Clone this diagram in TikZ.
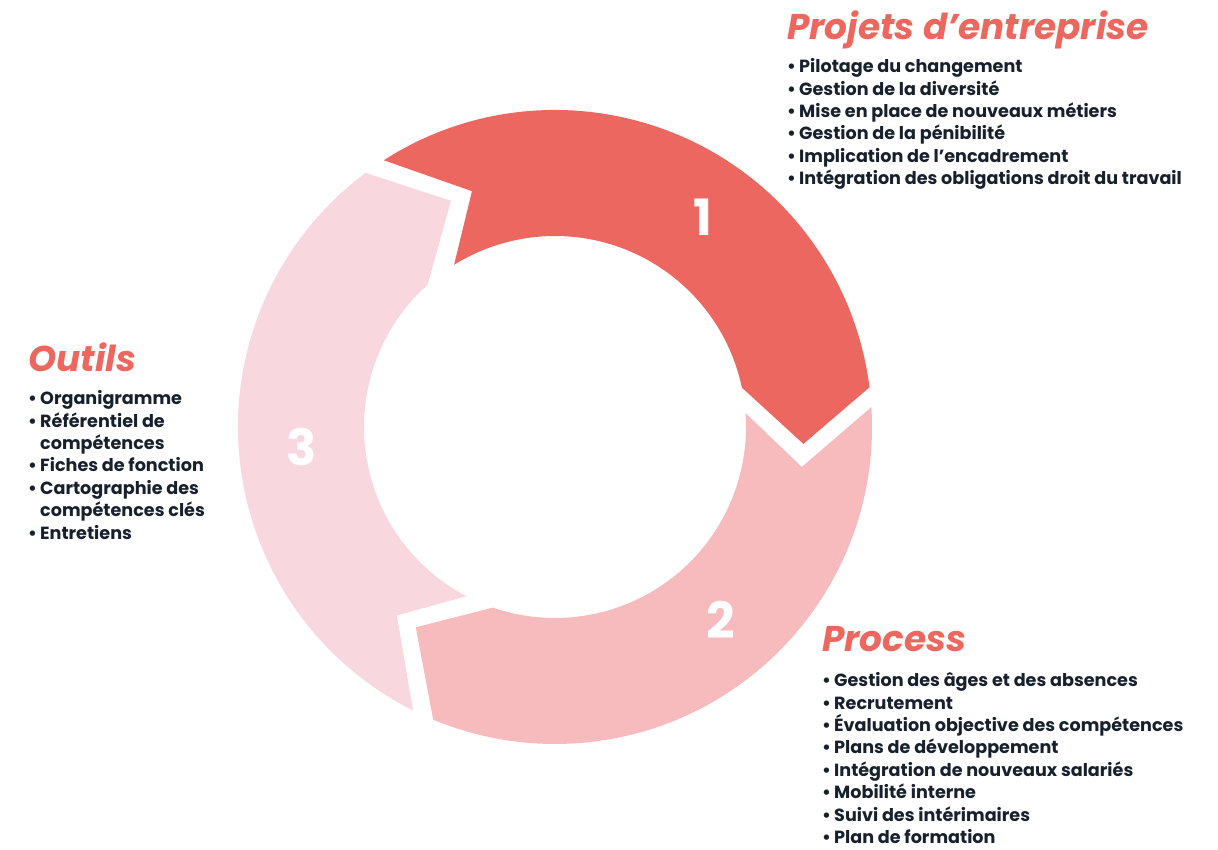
\documentclass[tikz,border=0pt]{standalone}
\usepackage{fontspec}
\setmainfont{Poppins}
\usetikzlibrary{calc, positioning}

\definecolor{cycleRed}{HTML}{EC675F}
\definecolor{cyclePink}{HTML}{F7BABD}
\definecolor{cycleLight}{HTML}{F9D7DF}
\definecolor{headRed}{HTML}{EE675F}
\definecolor{inkBlue}{HTML}{17212E}

\newcommand{\itm}[1]{\makebox[12pt][l]{•}#1}
\newcommand{\cnt}[1]{\hspace*{12pt}#1}

\tikzset{
    heading/.style={anchor=base west, inner sep=0pt, text=headRed,
        font=\fontsize{35.8}{40}\selectfont\bfseries\itshape},
    bullets/.style={anchor=north west, inner sep=0pt, align=left, text=inkBlue,
        font=\fontsize{17.6}{22.4}\selectfont\bfseries},
    stepnum/.style={text=white, inner sep=0pt, font=\fontsize{50}{50}\selectfont\bfseries}
}

\begin{document}
\begin{tikzpicture}[x=1pt, y=1pt]
    \useasboundingbox (0,0) rectangle (1218,850);
    \coordinate (C) at (555,423);

    % Ring segments
    \fill[cycleRed] ($(C)+(122.7:317)$) arc[start angle=122.7, end angle=7.2, radius=317]
        -- ($(C)+(-3.9:249)$) -- ($(C)+(11.9:191)$)
        arc[start angle=11.9, end angle=121.9, radius=191]
        -- ($(C)+(109.4:250)$) -- cycle;

    \fill[cyclePink] ($(C)+(3.6:317)$) arc[start angle=3.6, end angle=-112.6, radius=317]
        -- ($(C)+(-124.8:244)$) -- ($(C)+(-109:191)$)
        arc[start angle=-109, end angle=4.2, radius=191]
        -- ($(C)+(-9.2:250)$) -- cycle;

    \fill[cycleLight] ($(C)+(243.4:317)$) arc[start angle=243.4, end angle=126.7, radius=317]
        -- ($(C)+(114.7:249)$) -- ($(C)+(131.8:191)$)
        arc[start angle=131.8, end angle=242.4, radius=191]
        -- ($(C)+(230:246)$) -- cycle;

    % Step numbers
    \node[stepnum] (one) at (703,633) {1};
    \node[stepnum] (two) at (721,230) {2};
    \node[stepnum] (three) at (302,403) {3};

    % Projets d'entreprise
    \node[heading] (projets) at (787,810) {Projets d’entreprise};
    \node[bullets] (projetsList) at (787,791.5) {%
        \itm{Pilotage du changement}\\
        \itm{Gestion de la diversité}\\
        \itm{Mise en place de nouveaux métiers}\\
        \itm{Gestion de la pénibilité}\\
        \itm{Implication de l’encadrement}\\
        \itm{Intégration des obligations droit du travail}};

    % Outils
    \node[heading] (outils) at (28,478) {Outils};
    \node[bullets] (outilsList) at (28,459.5) {%
        \itm{Organigramme}\\
        \itm{Référentiel de}\\
        \cnt{compétences}\\
        \itm{Fiches de fonction}\\
        \itm{Cartographie des}\\
        \cnt{compétences clés}\\
        \itm{Entretiens}};

    % Process
    \node[heading] (process) at (822,198) {Process};
    \node[bullets] (processList) at (822,177.5) {%
        \itm{Gestion des âges et des absences}\\
        \itm{Recrutement}\\
        \itm{Évaluation objective des compétences}\\
        \itm{Plans de développement}\\
        \itm{Intégration de nouveaux salariés}\\
        \itm{Mobilité interne}\\
        \itm{Suivi des intérimaires}\\
        \itm{Plan de formation}};
\end{tikzpicture}
\end{document}
